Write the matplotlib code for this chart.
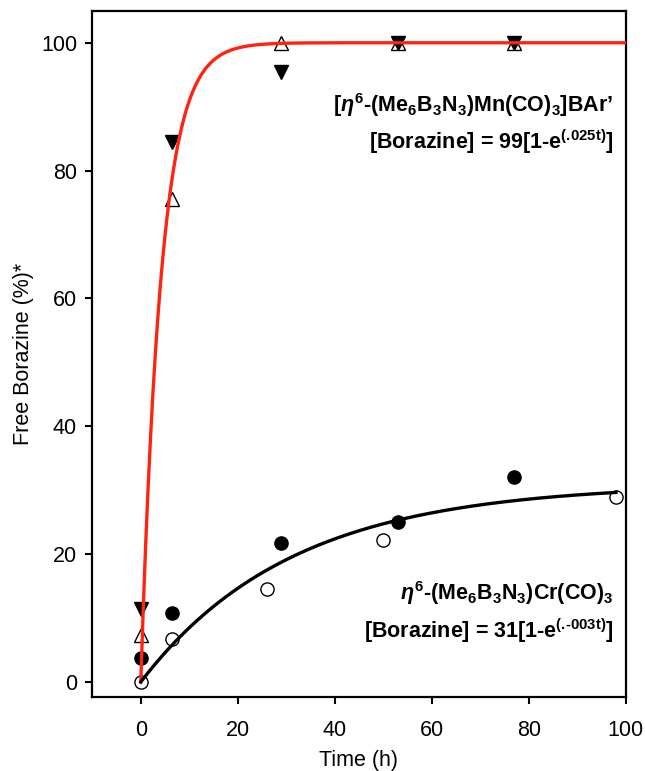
import numpy as np
import matplotlib
matplotlib.use("Agg")
import matplotlib.pyplot as plt

plt.rcParams['font.family'] = ['Liberation Sans', 'DejaVu Sans']
plt.rcParams['mathtext.fontset'] = 'custom'
plt.rcParams['mathtext.rm'] = 'Liberation Sans:bold'
plt.rcParams['mathtext.bf'] = 'Liberation Sans:bold'
plt.rcParams['mathtext.it'] = 'Liberation Sans:bold:italic'
plt.rcParams['mathtext.default'] = 'rm'

# Data
t_cr_open = [0, 6.5, 26, 50, 98]
y_cr_open = [0, 6.8, 14.6, 22.2, 29.0]
t_cr_fill = [0, 6.5, 29, 53, 77]
y_cr_fill = [3.7, 10.8, 21.7, 25.0, 32.0]
t_mn_open = [0, 6.5, 29, 53, 77]
y_mn_open = [7.4, 75.5, 100, 100, 100]
t_mn_fill = [0, 6.5, 29, 53, 77]
y_mn_fill = [11.4, 84.5, 95.5, 100, 100]

# fit parameters (as drawn)
mn_amp, mn_k = 100.0, 0.24
cr_amp, cr_k = 31.0, 0.032

xticks = [0, 20, 40, 60, 80, 100]
yticks = [0, 20, 40, 60, 80, 100]

fig = plt.figure(figsize=(6.45, 7.71), dpi=100)
ax = fig.add_axes([0.1431, 0.0964, 0.970 - 0.1431, 0.986 - 0.0964])

ms = 9.5
ax.plot(t_cr_open, y_cr_open, 'o', ms=ms, mfc='white', mec='black', mew=1.0, ls='none', zorder=2)
ax.plot(t_cr_fill, y_cr_fill, 'o', ms=ms, mfc='black', mec='black', ls='none', zorder=2)
ax.plot(t_mn_open, y_mn_open, '^', ms=ms, mfc='white', mec='black', mew=1.0, ls='none', zorder=2)
ax.plot(t_mn_fill, y_mn_fill, 'v', ms=ms, mfc='black', mec='black', ls='none', zorder=2)

tc = np.linspace(0, 100, 600)
ax.plot(tc, mn_amp * (1 - np.exp(-mn_k * tc)), color='#ff2410', lw=2.4, zorder=3)
tb = np.linspace(0, 98, 400)
ax.plot(tb, cr_amp * (1 - np.exp(-cr_k * tb)), color='black', lw=2.4, zorder=3)

ax.set_xlim(-10, 100)
ax.set_ylim(-2.3, 105)
ax.set_xticks(xticks)
ax.set_yticks(yticks)
ax.tick_params(direction='out', length=5, width=1.5, labelsize=15.5)
ax.tick_params(axis='x', pad=12)
ax.tick_params(axis='y', pad=6)
for s in ax.spines.values():
    s.set_linewidth(1.6)

ax.set_xlabel('Time (h)', fontsize=15.5, labelpad=6)
ax.set_ylabel('Free Borazine (%)*', fontsize=15.5, labelpad=5)

fs = 15.5
ax.text(97.5, 89.1, r"[$\mathit{\eta}^{6}$-(Me$_6$B$_3$N$_3$)Mn(CO)$_3$]BAr’",
        ha='right', va='baseline', fontsize=fs, fontweight='bold')
ax.text(97.5, 83.4, r"[Borazine] = 99[1-e$^{\text{(.025t)}}$]",
        ha='right', va='baseline', fontsize=fs, fontweight='bold')
ax.text(97.5, 12.9, r"$\mathit{\eta}^{6}$-(Me$_6$B$_3$N$_3$)Cr(CO)$_3$",
        ha='right', va='baseline', fontsize=fs, fontweight='bold')
ax.text(97.5, 6.9, r"[Borazine] = 31[1-e$^{\text{(.-003t)}}$]",
        ha='right', va='baseline', fontsize=fs, fontweight='bold')

fig.savefig('out.png', dpi=100)
